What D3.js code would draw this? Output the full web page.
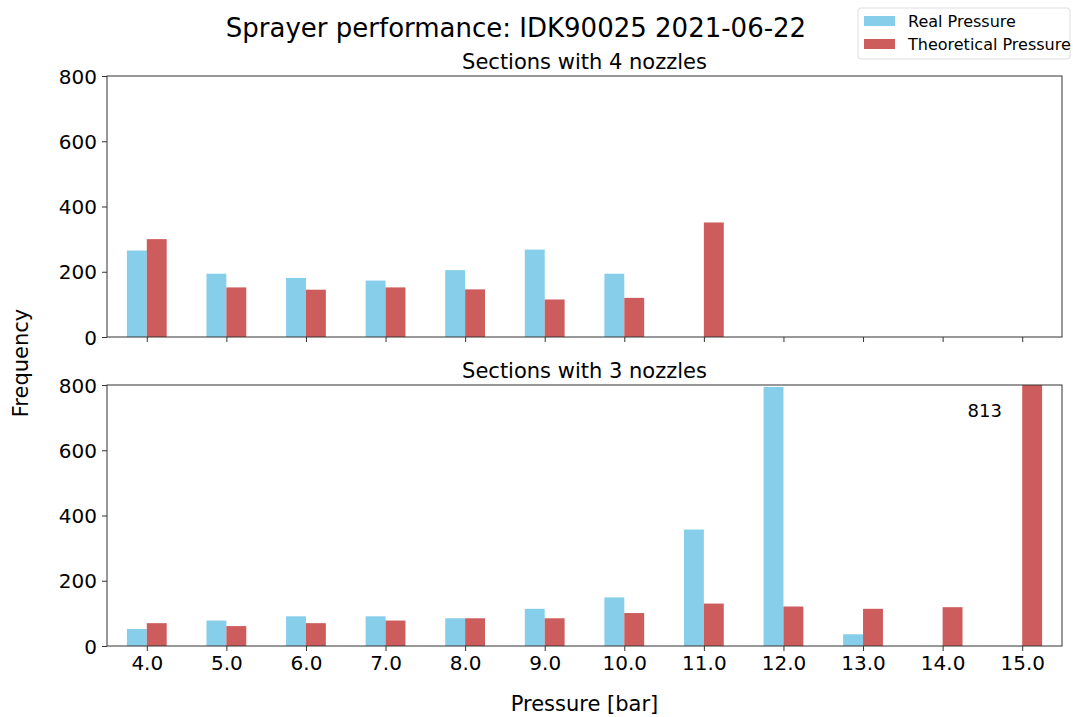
<!DOCTYPE html>
<meta charset="utf-8">
<title>Sprayer performance</title>
<head>
  <script src="https://d3js.org/d3.v7.min.js"></script>
  <style>
    body { margin: 0; background: #fff; }
    text { font-family: "DejaVu Sans", sans-serif; fill: #000; }
  </style>
</head>
<body>
  <div id="chart"></div>
  <script>
    var width = 1073
    var height = 717

    // pressure classes on the x axis
    var pressures = ["4.0", "5.0", "6.0", "7.0", "8.0", "9.0", "10.0", "11.0", "12.0", "13.0", "14.0", "15.0"]
    var yTicks = [0, 200, 400, 600, 800]

    // sections with 4 nozzles
    var real4 = [265, 194, 181, 173, 205, 268, 194, 0, 0, 0, 0, 0]
    var theo4 = [300, 152, 145, 152, 146, 115, 120, 351, 0, 0, 0, 0]

    // sections with 3 nozzles
    var real3 = [52, 78, 91, 91, 85, 114, 149, 357, 794, 36, 0, 0]
    var theo3 = [70, 61, 70, 78, 85, 85, 101, 130, 121, 114, 119, 813]

    var seriesNames = ["Real Pressure", "Theoretical Pressure"]
    var seriesColors = ["#87CEEB", "#CD5C5C"]

    var left = 107, right = 1062

    var svg = d3.select("#chart")
      .append("svg")
      .attr("width", width)
      .attr("height", height)

    // index based scale, like matplotlib: centres at 0..11, limits -0.5..11.5
    var x = d3.scaleLinear()
      .domain([-0.5, pressures.length - 0.5])
      .range([left, right])
    var barW = x(0.25) - x(0)

    function drawPanel(top, bottom, title, real, theo, showLabels) {
      var y = d3.scaleLinear().domain([0, 800]).range([bottom, top])
      var g = svg.append("g")

      var rows = pressures.map(function(p, i) {
        return { i: i, real: real[i], theo: theo[i] }
      })

      g.selectAll(".real")
        .data(rows)
        .enter().append("rect")
        .attr("x", function(d) { return x(d.i) - barW; })
        .attr("width", barW)
        .attr("y", function(d) { return y(Math.min(d.real, 800)); })
        .attr("height", function(d) { return bottom - y(Math.min(d.real, 800)); })
        .attr("fill", seriesColors[0])

      g.selectAll(".theo")
        .data(rows)
        .enter().append("rect")
        .attr("x", function(d) { return x(d.i); })
        .attr("width", barW)
        .attr("y", function(d) { return y(Math.min(d.theo, 800)); })
        .attr("height", function(d) { return bottom - y(Math.min(d.theo, 800)); })
        .attr("fill", seriesColors[1])

      // y axis
      var yAxis = g.append("g")
        .attr("transform", "translate(" + left + ",0)")
        .call(d3.axisLeft(y).tickValues(yTicks).tickSize(5).tickPadding(5))
      yAxis.selectAll("text").style("font-size", "20px").attr("dy", "0.36em")

      // x axis
      var xAxis = g.append("g")
        .attr("transform", "translate(0," + bottom + ")")
        .call(d3.axisBottom(x)
          .tickValues(d3.range(pressures.length))
          .tickSize(5).tickPadding(5)
          .tickFormat(function(i) { return showLabels ? pressures[i] : ""; }))
      xAxis.selectAll("text").style("font-size", "20px")

      g.selectAll(".domain").remove()
      g.selectAll(".tick line").attr("stroke", "#333")

      // frame
      g.append("rect")
        .attr("x", left)
        .attr("y", top)
        .attr("width", right - left)
        .attr("height", bottom - top)
        .attr("fill", "none")
        .attr("stroke", "#333")
        .attr("stroke-width", 1)

      g.append("text")
        .attr("x", (left + right) / 2)
        .attr("y", top - 7)
        .attr("text-anchor", "middle")
        .style("font-size", "21px")
        .text(title)

      return y
    }

    drawPanel(76, 337, "Sections with 4 nozzles", real4, theo4, false)
    var y3 = drawPanel(385, 646, "Sections with 3 nozzles", real3, theo3, true)

    // label for the clipped bar
    svg.append("text")
      .attr("x", x(pressures.length - 1.47))
      .attr("y", y3(720))
      .attr("dy", "0.35em")
      .attr("text-anchor", "middle")
      .style("font-size", "18px")
      .text(theo3[theo3.length - 1])

    svg.append("text")
      .attr("x", 516)
      .attr("y", 37)
      .attr("text-anchor", "middle")
      .style("font-size", "26px")
      .text("Sprayer performance: IDK90025 2021-06-22")

    svg.append("text")
      .attr("transform", "translate(28,363) rotate(-90)")
      .attr("text-anchor", "middle")
      .style("font-size", "21px")
      .text("Frequency")

    svg.append("text")
      .attr("x", (left + right) / 2)
      .attr("y", 711)
      .attr("text-anchor", "middle")
      .style("font-size", "21px")
      .text("Pressure [bar]")

    // legend
    var legend = svg.append("g")
    legend.append("rect")
      .attr("x", 858)
      .attr("y", 8)
      .attr("width", 212)
      .attr("height", 51)
      .attr("rx", 3)
      .attr("fill", "#fff")
      .attr("stroke", "#ddd")

    seriesNames.forEach(function(name, i) {
      legend.append("rect")
        .attr("x", 864)
        .attr("y", 16 + i * 23)
        .attr("width", 31)
        .attr("height", 10)
        .attr("fill", seriesColors[i])
      legend.append("text")
        .attr("x", 908)
        .attr("y", 21 + i * 23)
        .attr("dy", "0.35em")
        .style("font-size", "16px")
        .text(name)
    })
  </script>
</body>
